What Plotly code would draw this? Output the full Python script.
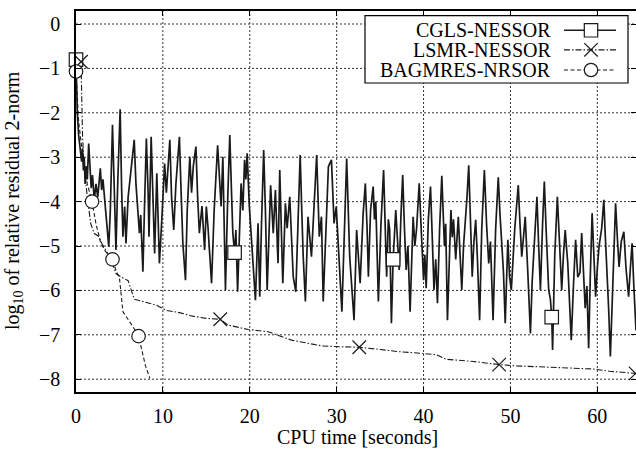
import plotly.graph_objects as go

# ---------------- data ----------------
cgls_points = [
    (0.0, -0.80), (0.08, -1.6), (0.15, -2.0), (0.3, -2.5), (0.5, -2.9), (0.65, -3.1), (0.75, -2.8),
    (0.85, -3.3), (0.95, -3.0), (1.05, -3.6), (1.2, -3.2), (1.3, -3.5), (1.46, -2.69), (1.6, -3.3),
    (1.75, -3.7), (1.9, -3.4), (2.1, -3.96), (2.3, -3.6), (2.5, -3.9), (2.8, -3.25), (2.95, -3.74),
    (3.1, -3.5), (3.3, -3.9), (3.5, -4.4), (3.77, -5.02), (3.95, -4.2), (4.2, -2.27), (4.4, -4.0),
    (4.6, -5.09), (4.8, -3.6), (5.08, -1.92), (5.25, -3.7), (5.4, -4.79), (5.6, -4.11), (5.75, -4.94),
    (6.0, -3.9), (6.3, -3.3), (6.7, -2.61), (6.9, -3.6), (7.3, -4.71), (7.45, -4.3), (7.7, -5.58),
    (7.9, -4.0), (8.1, -2.58), (8.3, -3.8), (8.4, -4.79), (8.65, -2.54), (8.85, -4.2), (9.05, -5.17),
    (9.3, -3.36), (9.6, -5.39), (9.85, -4.5), (10.2, -3.14), (10.4, -3.8), (10.8, -2.61), (11.0, -3.9),
    (11.25, -4.64), (11.5, -3.6), (11.9, -2.54), (12.1, -3.8), (12.3, -4.94), (12.6, -5.77),
    (12.8, -4.2), (13.1, -2.99), (13.3, -3.8), (13.5, -3.2), (13.8, -2.76), (14.0, -3.9), (14.2, -4.71),
    (14.5, -4.1), (14.8, -5.09), (15.0, -4.11), (15.2, -4.6), (15.6, -5.84), (15.9, -4.2), (16.3, -2.73),
    (16.5, -3.6), (16.7, -4.11), (16.9, -2.99), (17.2, -5.99), (17.45, -4.0), (17.7, -2.50),
    (17.9, -3.8), (18.05, -4.71), (18.25, -5.15), (18.4, -4.64), (18.6, -6.03), (18.8, -4.9),
    (19.0, -3.59), (19.2, -4.2), (19.4, -3.06), (19.55, -3.5), (19.7, -2.91), (19.95, -4.11),
    (20.2, -4.9), (20.5, -5.77), (20.65, -6.22), (20.95, -4.49), (21.15, -6.14), (21.35, -4.5),
    (21.6, -2.84), (21.8, -4.2), (22.0, -5.99), (22.4, -3.63), (22.7, -4.71), (22.95, -3.74),
    (23.25, -5.39), (23.45, -3.29), (23.8, -5.84), (24.1, -4.04), (24.3, -4.6), (24.6, -3.89),
    (25.0, -5.69), (25.3, -6.03), (25.8, -2.95), (26.0, -4.3), (26.15, -5.24), (26.4, -6.25),
    (26.7, -4.34), (27.1, -5.24), (27.4, -4.0), (27.7, -2.95), (28.0, -4.79), (28.25, -4.34),
    (28.45, -6.25), (28.8, -4.5), (29.05, -3.21), (29.4, -3.06), (29.7, -4.49), (29.95, -4.11),
    (30.25, -5.24), (30.6, -6.48), (30.9, -4.6), (31.15, -3.03), (31.5, -5.24), (31.7, -5.8),
    (32.0, -6.67), (32.3, -4.64), (32.7, -5.84), (33.05, -4.26), (33.3, -3.59), (33.5, -4.6),
    (33.65, -5.69), (33.9, -4.2), (34.2, -3.66), (34.35, -4.4), (34.5, -4.0), (34.8, -6.25),
    (35.1, -4.5), (35.4, -3.29), (35.6, -4.6), (35.75, -5.69), (35.95, -4.4), (36.1, -4.64),
    (36.3, -6.74), (36.5, -5.3), (36.8, -4.19), (37.0, -4.9), (37.2, -5.54), (37.4, -4.3),
    (37.6, -3.40), (37.8, -4.6), (38.0, -5.54), (38.2, -5.0), (38.45, -6.48), (38.8, -4.34),
    (39.0, -5.0), (39.2, -4.6), (39.5, -3.59), (39.75, -4.7), (40.0, -5.77), (40.15, -5.2),
    (40.3, -5.95), (40.55, -4.4), (40.8, -3.66), (41.0, -4.8), (41.2, -5.99), (41.4, -5.3),
    (41.6, -6.29), (41.85, -4.6), (42.1, -3.42), (42.4, -5.0), (42.55, -4.5), (42.75, -6.67),
    (43.0, -4.9), (43.15, -4.19), (43.3, -4.8), (43.45, -4.4), (43.7, -5.3), (44.0, -4.34),
    (44.2, -5.2), (44.4, -5.99), (44.6, -5.0), (44.8, -4.5), (45.0, -3.9), (45.2, -3.18),
    (45.4, -4.5), (45.6, -5.69), (45.8, -4.9), (46.0, -4.41), (46.2, -5.3), (46.45, -6.67),
    (46.7, -4.6), (47.0, -3.29), (47.25, -4.5), (47.5, -5.39), (47.7, -4.9), (48.0, -6.67),
    (48.3, -4.6), (48.6, -3.45), (48.8, -4.3), (49.0, -5.0), (49.2, -5.6), (49.4, -6.74),
    (49.55, -5.5), (49.7, -4.86), (49.9, -5.7), (50.1, -5.99), (50.5, -4.6), (50.9, -3.63),
    (51.1, -4.5), (51.3, -5.24), (51.5, -4.8), (51.7, -4.34), (52.0, -5.6), (52.3, -6.97),
    (52.5, -5.8), (52.7, -5.0), (52.85, -4.4), (53.05, -3.89), (53.25, -5.0), (53.45, -5.99),
    (53.7, -4.5), (53.9, -3.55), (54.1, -4.6), (54.4, -5.99), (54.6, -6.2), (54.75, -6.6),
    (54.85, -7.34), (55.1, -5.2), (55.4, -3.89), (55.65, -5.0), (55.9, -5.99), (56.1, -5.2),
    (56.3, -4.64), (56.6, -5.4), (57.0, -7.12), (57.25, -5.9), (57.5, -4.86), (57.75, -5.7),
    (58.0, -5.6), (58.2, -4.71), (58.4, -5.6), (58.6, -6.4), (58.8, -5.9), (59.0, -7.30),
    (59.2, -5.6), (59.4, -4.26), (59.6, -5.2), (59.8, -6.14), (60.0, -5.5), (60.2, -5.0),
    (60.5, -4.6), (60.75, -3.96), (60.9, -4.7), (61.1, -5.5), (61.3, -6.4), (61.5, -7.49),
    (61.8, -5.6), (62.1, -4.04), (62.3, -4.8), (62.5, -5.47), (62.75, -4.9), (63.05, -4.68),
    (63.3, -5.5), (63.6, -6.14), (63.8, -5.5), (64.0, -4.94), (64.2, -5.9), (64.45, -6.9),
]
cgls_t = [p[0] for p in cgls_points]
cgls_y = [p[1] for p in cgls_points]

lsmr_t = [0.58, 0.75, 0.9, 1.3, 1.7, 2.1, 2.6, 3.0, 3.6, 4.2, 4.6, 5.2, 6.0, 6.4, 6.7, 7.7, 9.2,
          10.4, 11.9, 13.4, 15.0, 16.6, 17.5, 19.8, 22.1, 24.8, 26.5, 28.3, 30.5, 32.6, 35.0,
          37.2, 39.9, 41.5, 42.6, 45.7, 48.7, 50.7, 54.5, 57.0, 59.5, 61.4, 64.4]
lsmr_y = [-0.85, -2.5, -3.1, -3.9, -4.5, -4.72, -4.78, -4.95, -5.15, -5.4, -5.62, -5.7, -5.78,
          -6.0, -6.2, -6.25, -6.33, -6.45, -6.5, -6.58, -6.63, -6.65, -6.78, -6.88, -6.93, -7.12,
          -7.18, -7.25, -7.27, -7.28, -7.33, -7.38, -7.42, -7.45, -7.55, -7.6, -7.67, -7.7,
          -7.73, -7.75, -7.77, -7.82, -7.87]

bag_t = [0.0, 0.3, 0.8, 1.3, 1.85, 2.3, 2.8, 3.3, 4.2, 4.6, 5.0, 5.4, 5.8, 6.5, 7.2, 7.6, 8.0, 8.5]
bag_y = [-1.07, -2.2, -3.0, -3.6, -4.0, -4.5, -4.9, -5.1, -5.3, -5.55, -5.72, -6.48, -6.6, -6.8,
         -7.03, -7.4, -7.7, -7.98]

cgls_mark_t = [0.0, 18.25, 36.5, 54.75]
cgls_mark_y = [-0.80, -5.15, -5.3, -6.6]
lsmr_mark_t = [0.58, 16.6, 32.6, 48.7, 64.4]
lsmr_mark_y = [-0.85, -6.65, -7.28, -7.67, -7.87]
bag_mark_t = [0.0, 1.85, 4.2, 7.2]
bag_mark_y = [-1.07, -4.0, -5.3, -7.03]

series_names = ["CGLS-NESSOR", "LSMR-NESSOR", "BAGMRES-NRSOR"]
x_ticks = [0, 10, 20, 30, 40, 50, 60]
y_ticks = [0, -1, -2, -3, -4, -5, -6, -7, -8]

# ---------------- figure ----------------
FONT = "Liberation Serif"
INK = "#1a1a1a"
DASH_LSMR = "6px,2px,1.5px,2px"
DASH_BAG = "4px,2.5px"
DASH_GRID = "2px,2px"

W, H = 636, 449
L, R, T, B = 76, 0, 11, 57
pw, ph = W - L - R, H - T - B
X_RANGE = [0, 64.45]
Y_RANGE = [-8.288, 0.293]

fig = go.Figure()

# dotted grid lines, one trace per tick value (drawn under the data)
for xv in x_ticks[1:]:
    fig.add_trace(go.Scatter(x=[xv, xv], y=Y_RANGE, mode="lines", hoverinfo="skip",
                             line=dict(color="#333", width=1, dash=DASH_GRID),
                             showlegend=False))
for yv in y_ticks:
    fig.add_trace(go.Scatter(x=X_RANGE, y=[yv, yv], mode="lines", hoverinfo="skip",
                             line=dict(color="#333", width=1, dash=DASH_GRID),
                             showlegend=False))

fig.add_trace(go.Scatter(x=cgls_t, y=cgls_y, mode="lines",
                         line=dict(color=INK, width=1.7), showlegend=False))
fig.add_trace(go.Scatter(x=lsmr_t, y=lsmr_y, mode="lines",
                         line=dict(color=INK, width=1.1, dash=DASH_LSMR), showlegend=False))
fig.add_trace(go.Scatter(x=bag_t, y=bag_y, mode="lines",
                         line=dict(color=INK, width=1.1, dash=DASH_BAG), showlegend=False))

mk_line = dict(color=INK, width=1.2)
fig.add_trace(go.Scatter(x=cgls_mark_t, y=cgls_mark_y, mode="markers", cliponaxis=False,
                         marker=dict(symbol="square", size=13.5, color="white", line=mk_line),
                         showlegend=False))
fig.add_trace(go.Scatter(x=lsmr_mark_t, y=lsmr_mark_y, mode="markers", cliponaxis=False,
                         marker=dict(symbol="x-thin", size=13.5, color=INK, line=mk_line),
                         showlegend=False))
fig.add_trace(go.Scatter(x=bag_mark_t, y=bag_mark_y, mode="markers", cliponaxis=False,
                         marker=dict(symbol="circle", size=13.5, color="white", line=mk_line),
                         showlegend=False))


def px(xp):
    return (xp - L) / pw


def py(yp):
    return (H - B - yp) / ph


axis_common = dict(
    showline=True, linecolor="black", linewidth=1.5, mirror="ticks",
    ticks="inside", ticklen=5, tickwidth=1, tickcolor="black",
    showgrid=False, zeroline=False, automargin=False,
    tickfont=dict(family=FONT, size=20, color="black"),
)
fig.update_xaxes(range=X_RANGE, tickvals=x_ticks, ticklabelstandoff=5, **axis_common)
fig.update_yaxes(range=Y_RANGE, tickvals=y_ticks, ticklabelstandoff=10, **axis_common)

shapes = []
annotations = []
# legend box
shapes.append(dict(type="rect", xref="paper", yref="paper", layer="above",
                   x0=px(365), x1=px(628), y0=py(83), y1=py(15.7),
                   line=dict(color="black", width=1.2), fillcolor="white"))
rows = [30.3, 49.8, 70.0]
dashes = ["solid", DASH_LSMR, DASH_BAG]
hs = 6.7
for i, (name, yr, dsh) in enumerate(zip(series_names, rows, dashes)):
    annotations.append(dict(xref="paper", yref="paper", x=px(553), y=py(yr), text=name,
                            showarrow=False, xanchor="right", yanchor="middle",
                            font=dict(family=FONT, size=20, color="black")))
    shapes.append(dict(type="line", xref="paper", yref="paper", layer="above",
                       x0=px(564), x1=px(616), y0=py(yr), y1=py(yr),
                       line=dict(color=INK, width=1.2 if i else 1.4, dash=dsh)))
    cx = 591
    if i == 0:
        shapes.append(dict(type="rect", xref="paper", yref="paper", layer="above",
                           x0=px(cx - hs), x1=px(cx + hs), y0=py(yr + hs), y1=py(yr - hs),
                           line=dict(color=INK, width=1.2), fillcolor="white"))
    elif i == 1:
        for s in (1, -1):
            shapes.append(dict(type="line", xref="paper", yref="paper", layer="above",
                               x0=px(cx - hs), x1=px(cx + hs),
                               y0=py(yr - s * hs), y1=py(yr + s * hs),
                               line=dict(color=INK, width=1.2)))
    else:
        shapes.append(dict(type="circle", xref="paper", yref="paper", layer="above",
                           x0=px(cx - hs), x1=px(cx + hs), y0=py(yr + hs), y1=py(yr - hs),
                           line=dict(color=INK, width=1.2), fillcolor="white"))

annotations.append(dict(xref="paper", yref="paper", x=px(357), y=py(437),
                        text="CPU time [seconds]", showarrow=False,
                        xanchor="center", yanchor="middle",
                        font=dict(family=FONT, size=20, color="black")))
annotations.append(dict(xref="paper", yref="paper", x=px(13), y=py(201),
                        text="log<sub>10</sub> of relative residual 2-norm", showarrow=False,
                        textangle=-90, xanchor="center", yanchor="middle",
                        font=dict(family=FONT, size=20, color="black")))

fig.update_layout(
    width=W, height=H, margin=dict(l=L, r=R, t=T, b=B, autoexpand=False),
    paper_bgcolor="white", plot_bgcolor="white",
    shapes=shapes, annotations=annotations, showlegend=False,
)

fig.write_html(
    "out.html",
    config={"displayModeBar": False},
    post_script="document.body.style.margin='0';document.body.style.overflow='hidden';",
)
